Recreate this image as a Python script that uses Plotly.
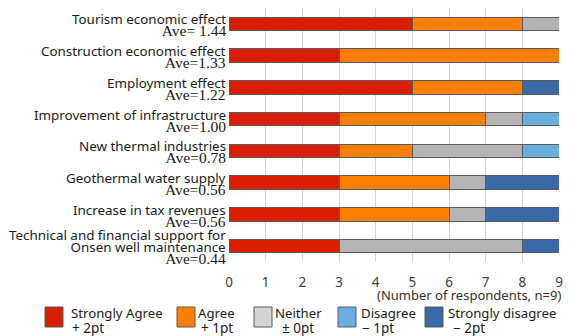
import plotly.graph_objects as go

# Survey items (top to bottom) and response counts, n = 9
items = [
    "Tourism economic effect",
    "Construction economic effect",
    "Employment effect",
    "Improvement of infrastructure",
    "New thermal industries",
    "Geothermal water supply",
    "Increase in tax revenues",
    "Technical and financial support for<br>Onsen well maintenance",
]
strongly_agree = [5, 3, 5, 3, 3, 3, 3, 3]
agree = [3, 6, 3, 4, 2, 3, 3, 0]
neither = [1, 0, 0, 1, 3, 1, 1, 5]
disagree = [0, 0, 0, 1, 1, 0, 0, 0]
strongly_disagree = [0, 0, 1, 0, 0, 2, 2, 1]

levels = ["Strongly Agree", "Agree", "Neither", "Disagree", "Strongly disagree"]
points = [2, 1, 0, -1, -2]
point_labels = ["+ 2pt", "+ 1pt", "\u00b1 0pt", "\u2212 1pt", "\u2212 2pt"]
x_ticks = list(range(0, 10))
n_resp = 9

series = [strongly_agree, agree, neither, disagree, strongly_disagree]
bar_colors = ["#d91e00", "#ff7f00", "#b4b4b4", "#6aaee0", "#3b69a8"]
legend_colors = ["#d91e00", "#ff7f00", "#d4d4d4", "#6aaee0", "#3b69a8"]

SANS = "Noto Sans, DejaVu Sans, sans-serif"
SERIF = "Liberation Serif"

fig = go.Figure()
for name, vals, col in zip(levels, series, bar_colors):
    fig.add_trace(go.Bar(
        y=list(range(len(items))), x=vals, orientation="h", name=name,
        marker=dict(color=col, line=dict(color="#5a5a5a", width=1)),
        width=0.42, showlegend=False,
    ))

# weighted average score for each item
averages = []
for i in range(len(items)):
    total = sum(s[i] * p for s, p in zip(series, points))
    averages.append(total / n_resp)

# item labels: sans-serif name line(s) over a serif average line
annotations = []
for i, (label, avg) in enumerate(zip(items, averages)):
    lines = label.split("<br>")
    ave_txt = ("Ave= " if i == 0 else "Ave=") + f"{avg:.2f}"
    parts = [f"<span style='font-size:13.4px'>{ln}</span>" for ln in lines]
    parts.append(f"<span style='font-family:{SERIF};font-size:15.5px'>{ave_txt}</span>")
    annotations.append(dict(
        x=0, xref="paper", y=i, yref="y", text="<br>".join(parts), showarrow=False,
        xanchor="right", yanchor="middle", align="right", xshift=-2,
        yshift=-1 if len(lines) == 1 else 0, borderpad=0,
        font=dict(family=SANS, size=9.3, color="#1a1a1a"),
    ))

# axis caption
annotations.append(dict(
    x=1, xref="paper", y=-0.13, yref="paper", text="(Number of respondents, n=9)",
    showarrow=False, xanchor="right", yanchor="middle", xshift=4,
    font=dict(family=SANS, size=13, color="#333333"),
))

# legend: coloured boxes with two-line captions
shapes = []
box_x = [45, 177, 254, 338, 425]
text_x = [69, 196, 273, 359, 446]
sub_x = [71, 200, 281, 361, 452]
for lvl, pl, col, bx, tx, sx in zip(levels, point_labels, legend_colors, box_x, text_x, sub_x):
    shapes.append(dict(
        type="rect", xref="paper", yref="paper",
        x0=(bx - 229) / 330, x1=(bx + 18 - 229) / 330,
        y0=(262 - 327) / 254, y1=(262 - 307) / 254,
        fillcolor=col, line=dict(color="#5a5a5a", width=1),
    ))
    annotations.append(dict(
        x=(tx - 229) / 330, xref="paper", y=(262 - 313) / 254, yref="paper",
        text=lvl, showarrow=False, xanchor="left", yanchor="middle",
        font=dict(family=SANS, size=13.2, color="#1a1a1a"),
    ))
    annotations.append(dict(
        x=(sx - 229) / 330, xref="paper", y=(262 - 328) / 254, yref="paper",
        text=pl, showarrow=False, xanchor="left", yanchor="middle", borderpad=0,
        font=dict(family=SANS, size=13.5, color="#1a1a1a"),
    ))

fig.update_layout(
    barmode="stack",
    width=570, height=336,
    margin=dict(l=229, r=11, t=8, b=74),
    paper_bgcolor="white", plot_bgcolor="white",
    xaxis=dict(
        range=[0, 9], tickvals=x_ticks, showgrid=True, gridcolor="#d4d4d4", gridwidth=1,
        zeroline=False, showline=False, ticks="outside", ticklen=8,
        tickcolor="rgba(0,0,0,0)",
        tickfont=dict(family=SANS, size=13.5, color="#404040"),
    ),
    yaxis=dict(
        range=[7.5, -0.5], showticklabels=False, showgrid=False, zeroline=False,
        showline=False,
    ),
    shapes=shapes,
    annotations=annotations,
)

fig.write_html("out.html")
